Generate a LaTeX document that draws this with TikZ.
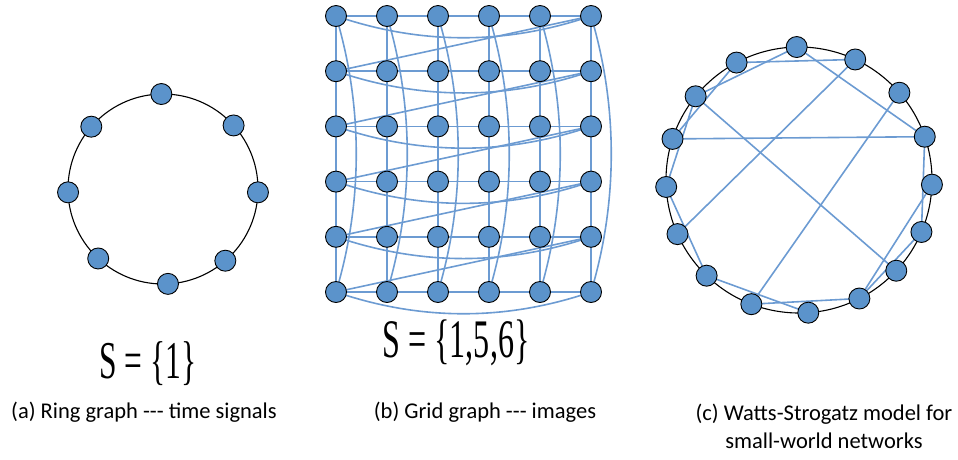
\documentclass[tikz,border=0pt]{standalone}
\usepackage{fontspec}
\setmainfont{Carlito}
\newfontfamily\eqfont{Liberation Serif}
\usetikzlibrary{backgrounds, calc}
\definecolor{nodeblue}{HTML}{5B93CB}
\definecolor{edgeblue}{HTML}{6C9BD2}
\tikzset{
  vtx/.style={circle, draw=black, fill=nodeblue, line width=0.9pt,
              minimum size=21pt, inner sep=0pt},
  link/.style={draw=edgeblue, line width=1.6pt},
  ringline/.style={draw=black, line width=1.1pt},
  capt/.style={font=\fontsize{22.5}{28}\selectfont, align=center}
}
\begin{document}
\begin{tikzpicture}[x=1pt, y=-1pt]
  \useasboundingbox (0,0) rectangle (958,459);
  % (a) Ring graph
  \coordinate (rc) at (163,189);
  \foreach \a [count=\i] in {91,42,-2,-49,-87,-133,182,139}
    \node[vtx] (r\i) at ($(rc)+(\a:95pt)$) {};
  \begin{scope}[on background layer]
    \draw[ringline] (rc) circle[radius=95pt];
  \end{scope}
  % (b) Grid graph
  \foreach \r in {0,...,5}
    \foreach \c in {0,...,5}
      \node[vtx] (g\r\c) at ({336+51*\c},{16+55.2*\r}) {};
  \begin{scope}[on background layer]
    % neighbours in rows and columns
    \foreach \r in {0,...,5}
      \foreach \c in {0,...,4} {
        \pgfmathtruncatemacro\n{\c+1}
        \draw[link] (g\r\c.center) -- (g\r\n.center);
        \draw[link] (g\c\r.center) -- (g\n\r.center);
      }
    % row ends
    \foreach \r in {0,...,5}
      \draw[link] (g\r0.center) .. controls +(85,29) and +(-85,29) .. (g\r5.center);
    % column ends
    \foreach \c in {0,...,5}
      \draw[link] (g0\c.center) .. controls +(27,90) and +(27,-90) .. (g5\c.center);
    % row to next row
    \foreach \r in {0,...,4} {
      \pgfmathtruncatemacro\n{\r+1}
      \draw[link] (g\n0.center) -- (g\r5.center);
    }
  \end{scope}
  % (c) Watts-Strogatz
  \coordinate (wc) at (799,180);
  \foreach \a [count=\i] in {91,65,41,19,-2,-23,-43,-63,-86,-111,-134,-156,-177,162,141,118}
    \node[vtx] (w\i) at ($(wc)+(\a:133pt)$) {};
  \begin{scope}[on background layer]
    \draw[ringline] (wc) circle[radius=133pt];
    \foreach \p/\q in {16/2,1/15,16/14,15/13,14/4,1/4,2/12,15/7,3/10,
                       13/11,11/9,10/8,4/6,5/8,6/8}
      \draw[link] (w\p.center) -- (w\q.center);
  \end{scope}
  % Labels
  \node (s1) at (148,364) {\resizebox*{97pt}{44pt}{\eqfont S = \{1\}}};
  \node (s2) at (456,343) {\resizebox*{147pt}{46pt}{\eqfont S = \{1,5,6\}}};
  \node[capt] (ca) at (144,412) {(a) Ring graph -\kern0pt-\kern0pt- time signals};
  \node[capt] (cb) at (485,412) {(b) Grid graph -\kern0pt-\kern0pt- images};
  \node[capt] (cc) at (824,426) {(c) Watts-Strogatz model for\\small-world networks};
\end{tikzpicture}
\end{document}
